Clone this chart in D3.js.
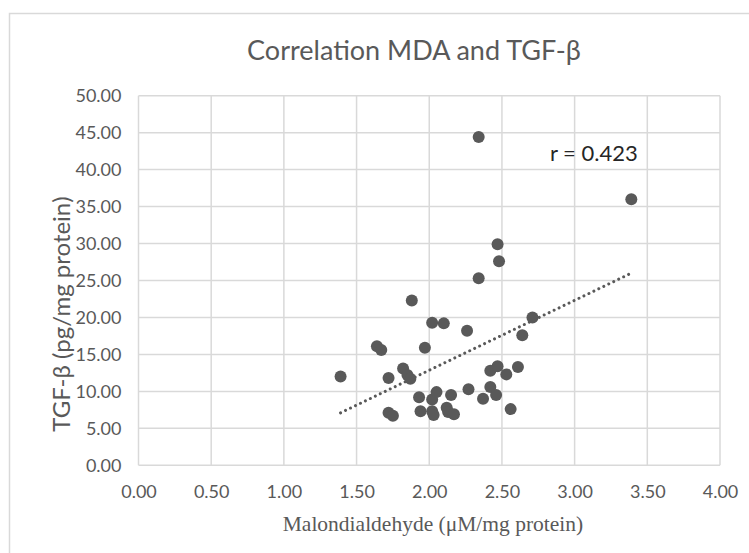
<!DOCTYPE html>
<html>
<head>
<meta charset="utf-8">
<script src="https://cdn.jsdelivr.net/npm/d3@7"></script>
<style>
  html, body { margin: 0; padding: 0; background: #fff; }
  svg { display: block; }
</style>
</head>
<body>
<svg id="chart" width="749" height="553"></svg>
<script>
// Correlation scatter: MDA vs TGF-beta

// Data (x = MDA, y = TGF-beta)
var mda = [1.39, 1.64, 1.67, 1.72, 1.72, 1.75, 1.82, 1.85, 1.87, 1.88,
           1.93, 1.94, 1.97, 2.02, 2.02, 2.02, 2.03, 2.05, 2.10, 2.12,
           2.13, 2.15, 2.17, 2.26, 2.27, 2.34, 2.34, 2.37, 2.42, 2.42,
           2.46, 2.47, 2.47, 2.48, 2.53, 2.56, 2.61, 2.64, 2.71, 3.39];
var tgf = [12.0, 16.1, 15.6, 11.8, 7.1, 6.7, 13.1, 12.2, 11.7, 22.3,
           9.2, 7.3, 15.9, 19.3, 8.9, 7.3, 6.8, 9.9, 19.2, 7.8,
           7.2, 9.5, 6.9, 18.2, 10.3, 44.4, 25.3, 9.0, 10.6, 12.8,
           9.5, 13.4, 29.9, 27.6, 12.3, 7.6, 13.3, 17.6, 20.0, 36.0];

// linear trendline ends, as drawn in the picture
var trendX = [1.39, 3.39];
var trendY = [7.1, 26.0];

var xTicks = [0, 0.5, 1, 1.5, 2, 2.5, 3, 3.5, 4];
var yTicks = [0, 5, 10, 15, 20, 25, 30, 35, 40, 45, 50];

var titleText = "Correlation MDA and TGF-\u03b2";
var xTitle = "Malondialdehyde (\u03bcM/mg protein)";
var yTitle = "TGF-\u03b2 (pg/mg protein)";
var rLabel = { text: "r = 0.423", x: 2.83, y: 41.1 };

// Layout
var plot = { left: 138.5, right: 720, top: 95.7, bottom: 465.3 };
var textGrey = "#595959", gridGrey = "#d9d9d9", dotGrey = "#595959";
var sans = "Lato, 'Open Sans', sans-serif";

var svg = d3.select("#chart");

var x = d3.scaleLinear().domain([0, 4]).range([plot.left, plot.right]);
var y = d3.scaleLinear().domain([0, 50]).range([plot.bottom, plot.top]);

// chart frame (runs off the right / bottom edge like the screenshot)
svg.append("rect")
  .attr("x", 9.5).attr("y", 13.5)
  .attr("width", 800).attr("height", 600)
  .attr("fill", "#fff")
  .attr("stroke", gridGrey).attr("stroke-width", 1.5);

// gridlines
svg.append("g")
  .selectAll("line.h")
  .data(yTicks)
  .enter().append("line")
    .attr("x1", plot.left).attr("x2", plot.right)
    .attr("y1", function(d) { return y(d); })
    .attr("y2", function(d) { return y(d); })
    .attr("stroke", gridGrey).attr("stroke-width", 1.5);

svg.append("g")
  .selectAll("line.v")
  .data(xTicks)
  .enter().append("line")
    .attr("y1", plot.top).attr("y2", plot.bottom)
    .attr("x1", function(d) { return x(d); })
    .attr("x2", function(d) { return x(d); })
    .attr("stroke", gridGrey).attr("stroke-width", 1.5);

// axes: labels only, the lines come from the grid
var xAxis = svg.append("g")
  .attr("transform", "translate(0," + plot.bottom + ")")
  .call(d3.axisBottom(x).tickValues(xTicks).tickFormat(d3.format(".2f")).tickSize(0).tickPadding(20));

var yAxis = svg.append("g")
  .attr("transform", "translate(" + plot.left + ",0)")
  .call(d3.axisLeft(y).tickValues(yTicks).tickFormat(d3.format(".2f")).tickSize(0).tickPadding(17));

[xAxis, yAxis].forEach(function(g) {
  g.select(".domain").remove();
  g.selectAll("text")
    .style("font-family", sans)
    .style("font-size", "18px")
    .attr("fill", textGrey);
});

// trendline (dotted)
svg.append("line")
  .attr("x1", x(trendX[0])).attr("y1", y(trendY[0]))
  .attr("x2", x(trendX[1])).attr("y2", y(trendY[1]))
  .attr("stroke", dotGrey)
  .attr("stroke-width", 3)
  .attr("stroke-linecap", "round")
  .attr("stroke-dasharray", "0.01 5.5");

// points
svg.append("g")
  .selectAll("circle")
  .data(d3.range(mda.length))
  .enter().append("circle")
    .attr("cx", function(i) { return x(mda[i]); })
    .attr("cy", function(i) { return y(tgf[i]); })
    .attr("r", 6)
    .attr("fill", dotGrey);

// texts
svg.append("text")
  .attr("x", 414).attr("y", 60)
  .attr("text-anchor", "middle")
  .style("font-family", sans).style("font-size", "27px")
  .attr("fill", textGrey)
  .text(titleText);

svg.append("text")
  .attr("x", x(rLabel.x)).attr("y", y(rLabel.y))
  .style("font-family", sans).style("font-size", "22px")
  .attr("fill", "#262626")
  .text(rLabel.text);

svg.append("text")
  .attr("x", 433).attr("y", 531)
  .attr("text-anchor", "middle")
  .style("font-family", "'Liberation Serif', 'Times New Roman', serif").style("font-size", "21.5px")
  .attr("fill", textGrey)
  .text(xTitle);

svg.append("text")
  .attr("transform", "translate(70,314) rotate(-90)")
  .attr("text-anchor", "middle")
  .style("font-family", sans).style("font-size", "24px")
  .attr("fill", textGrey)
  .text(yTitle);
</script>
</body>
</html>
